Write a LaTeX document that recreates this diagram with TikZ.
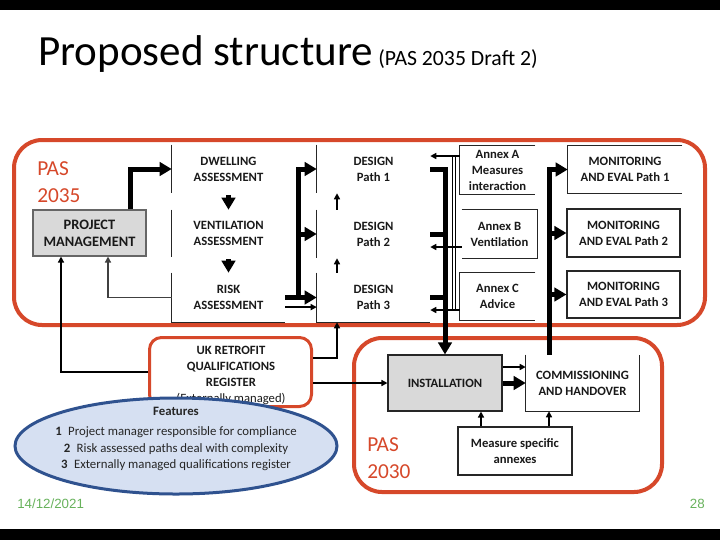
\documentclass[tikz,border=0pt]{standalone}
\usepackage{fontspec}
\setmainfont{Carlito}
\newfontfamily\datefont{Liberation Sans}
\usetikzlibrary{arrows.meta,shapes.geometric,calc}
\definecolor{pasred}{RGB}{214,72,42}
\definecolor{boxgray}{RGB}{217,217,217}
\definecolor{ellfill}{RGB}{214,224,242}
\definecolor{elldraw}{RGB}{47,82,143}
\definecolor{dategreen}{RGB}{104,178,92}
\begin{document}
\begin{tikzpicture}[x=0.75pt,y=-0.75pt,
  lbl/.style={font=\bfseries\fontsize{9.5}{12}\selectfont, align=center, inner sep=0pt, text=black!90},
  cell/.style={lbl, minimum width=84.75pt},
  border/.style={line width=0.8pt, draw=black!85},
  bigarrow/.style={line width=3.75pt, -{Triangle[length=9pt,width=10pt]}},
  bigline/.style={line width=3.75pt},
  thinarrow/.style={line width=1.1pt, -{Triangle[length=4.5pt,width=4.5pt]}},
  thinline/.style={line width=1.1pt},
  redbox/.style={draw=pasred, line width=3pt, rounded corners=21pt, inner sep=0pt},
  pastext/.style={font=\fontsize{16}{20.5}\selectfont, text=pasred, align=left, inner sep=0pt, anchor=north west},
  datetext/.style={font=\datefont\fontsize{10}{12}\selectfont, text=dategreen, inner sep=0pt}
]
\useasboundingbox (0,0) rectangle (720,540);
\fill[black] (0,0) rectangle (720,10);
\fill[black] (0,529) rectangle (720,540);

% title
\node[anchor=base west, inner sep=0, font=\fontsize{32.3}{38}\selectfont] (title) at (38,65) {Proposed structure};
\node[anchor=base west, inner sep=0, font=\fontsize{16.3}{19}\selectfont] (subtitle) at (378,65) {(PAS 2035 Draft 2)};

% containers
\node[redbox, minimum width=518.25pt, minimum height=138.75pt] (pas35) at (359.5,232.5) {};
\node[redbox, minimum width=231pt, minimum height=115.5pt] (pas30) at (508,415) {};
\node[pastext] (pas35lbl) at (37,161) {PAS\\2035};
\node[pastext] (pas30lbl) at (367,437) {PAS\\2030};

% project management
\node[lbl, font=\bfseries\fontsize{10.8}{12.75}\selectfont, fill=boxgray, draw=black!60, line width=0.8pt, minimum width=84.75pt, minimum height=34.5pt] (pm) at (89.5,233) {PROJECT\\MANAGEMENT};

% assessment column
\node[cell, minimum height=36pt] (dwell) at (228.5,169) {DWELLING\\ASSESSMENT};
\node[cell, minimum height=35.25pt] (vent) at (228.5,233.5) {VENTILATION\\ASSESSMENT};
\node[cell, minimum height=36.75pt] (risk) at (228.5,297.5) {RISK\\ASSESSMENT};
\draw[border] (dwell.north west) -- (dwell.south west);
\draw[border] (vent.north west) -- (vent.south west);
\draw[border] (risk.north west) -- (risk.south west) -- (risk.south east);

% design column
\node[cell, minimum height=36pt] (des1) at (373.5,169) {DESIGN\\Path 1};
\node[cell, minimum height=36pt] (des2) at (373.5,234) {DESIGN\\Path 2};
\node[cell, minimum height=36.75pt] (des3) at (373.5,297.5) {DESIGN\\Path 3};
\draw[border] (des1.north west) -- (des1.south west);
\draw[border] (des2.north west) -- (des2.south west);
\draw[border] (des3.north west) -- (des3.south west) -- (des3.south east);

% annexes
\node[lbl, minimum width=56.25pt, minimum height=36pt] (annA) at (497.5,170) {Annex A\\Measures\\interaction};
\node[lbl, minimum width=56.25pt, minimum height=36pt] (annB) at (499.5,234) {Annex B\\Ventilation};
\node[lbl, minimum width=56.25pt, minimum height=35.25pt] (annC) at (497.5,296.5) {Annex C\\Advice};
\draw[border] (annA.north east) -- (annA.north west) -- (annA.south west) -- (annA.south east);
\draw[border] (annB.north west) -- (annB.north east) -- (annB.south east) -- (annB.south west);
\draw[border] (annC.north east) -- (annC.north west) -- (annC.south west) -- (annC.south east);

% monitoring
\node[lbl, minimum width=85.5pt, minimum height=35.25pt] (mon1) at (625,169.5) {MONITORING\\AND EVAL Path 1};
\node[lbl, border, minimum width=84.75pt, minimum height=36pt] (mon2) at (623.5,233) {MONITORING\\AND EVAL Path 2};
\node[lbl, border, minimum width=84.75pt, minimum height=35.25pt] (mon3) at (623.5,294.5) {MONITORING\\AND EVAL Path 3};
\draw[border] (mon1.north east) -- (mon1.north west) -- (mon1.south west) -- (mon1.south east);

% PAS 2030 boxes
\node[lbl, border, fill=boxgray, minimum width=85.5pt, minimum height=42pt] (inst) at (445,383) {INSTALLATION};
\node[lbl, minimum width=84.75pt, minimum height=42pt] (comm) at (582.5,383) {COMMISSIONING\\AND HANDOVER};
\draw[border] (comm.north west) -- (comm.south west) -- (comm.south east) -- (comm.north east);
\node[lbl, border, minimum width=85.5pt, minimum height=36pt] (msa) at (515,451) {Measure specific\\annexes};

% register
\node[draw=pasred, line width=2.25pt, rounded corners=9pt, minimum width=121.5pt, minimum height=51.75pt, inner sep=0pt] (reg) at (230.5,372) {};
\node[lbl] (regtext) at (231,375.5) {UK RETROFIT\\QUALIFICATIONS\\REGISTER\\\mdseries(Externally managed)};

% connectors: PAS 2035
\draw[bigarrow] (pm.north -| 130,0) |- (dwell.west);
\draw[bigarrow] ([yshift=-1.5pt]dwell.south) -- (vent.north);
\draw[bigarrow] ([yshift=-1.5pt]vent.south) -- (risk.north);
\coordinate (busA) at (298,297.5);
\draw[bigarrow] (risk.east) -- (des3.west);
\draw[bigarrow] (busA) |- (des1.west);
\draw[bigarrow] (busA |- des2.west) -- (des2.west);
\draw[thinarrow] ([yshift=-7.2pt]risk.east) -- ([yshift=-7.2pt]des3.west);
\draw[thinarrow, draw=black!75] (risk.west) -| ($(pm.south)+(18.5,0)$);
\draw[thinarrow] (reg.west) -| ($(pm.south)+(-28.5,0)$);
\draw[thinarrow] ($(des2.north)+(-36.5,0)$) -- ($(des1.south)+(-36.5,0)$);
\draw[thinarrow] ($(des3.north)+(-36.5,0)$) -- ($(des2.south)+(-36.5,0)$);
\draw[thinarrow] ($(reg.east)+(0,-14)$) -| ($(des3.south)+(-36.5,0)$);
\draw[thinarrow] (inst.west -| reg.east) -- (inst.west);

\draw[bigarrow] (des1.east) -| (inst.north);
\draw[bigline] (des2.east) -- (des2.east -| inst.north);
\draw[bigline] (des3.east) -- (des3.east -| inst.north);

\draw[thinarrow] (annA.west |- 0,156) -- (des1.east |- 0,156);
\draw[thinarrow] (annB.west |- 0,247) -- (des2.east |- 0,247);
\draw[thinarrow] (annC.west |- 0,310) -- (des3.east |- 0,310);
\draw[thinline] (annA.west |- 0,156) ++(-7,0) coordinate (vA) -- (vA |- annC.west) -- ++(0,13.5);
\draw[thinline] (annA.west |- 0,156) ++(-4,0) coordinate (vB) -- ++(0,154);

% monitoring bus
\draw[bigarrow] ($(comm.north)+(-33.5,0)$) |- (mon1.west);
\draw[bigarrow] (mon2.west -| 549,0) -- (mon2.west);
\draw[bigarrow] (mon3.west -| 549,0) -- (mon3.west);

% PAS 2030 connectors
\draw[bigarrow] (inst.east) -- (comm.west);
\draw[thinarrow] ([yshift=12pt]inst.east) -- ([yshift=12pt]comm.west);
\draw[thinarrow] (msa.north -| 481,0) -- (inst.south -| 481,0);
\draw[thinarrow] (msa.north -| 549,0) -- (comm.south -| 549,0);

% features ellipse
\node[ellipse, draw=elldraw, fill=ellfill, line width=2.25pt, minimum width=241.5pt, minimum height=72pt, inner sep=0pt] (feat) at (176,446) {};
\node[font=\fontsize{9.6}{12.4}\selectfont, align=center, inner sep=0pt, text=black!85] (feattext) at (176,439) {\textbf{Features}\\[3.2pt] \textbf{1}\enspace Project manager responsible for compliance\\ \textbf{2}\enspace Risk assessed paths deal with complexity\\ \textbf{3}\enspace Externally managed qualifications register};

% footer
\node[datetext, anchor=west] (date) at (17,504) {14/12/2021};
\node[datetext, anchor=east] (page) at (705,504) {28};
\end{tikzpicture}
\end{document}
